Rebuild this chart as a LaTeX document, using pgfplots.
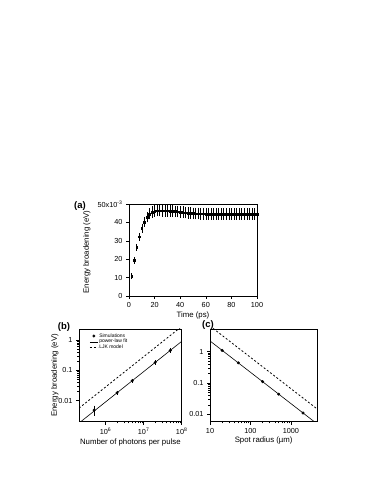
\documentclass[border=0pt]{standalone}
\usepackage{fontspec}
\setmainfont{Liberation Sans}
\usepackage{pgfplots}
\pgfplotsset{compat=1.18}
\usepackage{pgfplotstable}
\pgfplotstableread{
t e err
2 10.8 0.7
4 19.3 0.8
6 26.5 1.0
8 32.2 1.3
10 36.8 1.5
12 40.2 1.7
14 42.8 1.9
16 44.6 2.1
18 45.7 2.2
20 46.2 2.3
22 46.4 2.3
24 46.4 2.3
26 46.3 2.3
28 46.3 2.3
30 46.3 2.3
32 46.2 2.3
34 46.1 2.3
36 46.0 2.3
38 45.9 2.3
40 45.7 2.3
42 45.5 2.3
44 45.3 2.3
46 45.1 2.3
48 45.0 2.3
50 44.9 2.3
52 44.8 2.3
54 44.8 2.3
56 44.7 2.3
58 44.7 2.3
60 44.6 2.3
62 44.6 2.3
64 44.6 2.3
66 44.5 2.3
68 44.5 2.3
70 44.5 2.3
72 44.5 2.3
74 44.5 2.3
76 44.5 2.3
78 44.5 2.3
80 44.5 2.3
82 44.5 2.3
84 44.5 2.3
86 44.5 2.3
88 44.5 2.3
90 44.5 2.3
92 44.5 2.3
94 44.5 2.3
96 44.5 2.3
98 44.5 2.3
100 44.5 2.3
}\timedata
\pgfplotsset{
  common/.style={
    scale only axis,
    anchor=south west,
    tick align=outside,
    tick pos=left,
    major tick length=3pt,
    minor tick length=1.8pt,
    axis line style={line width=0.5pt},
    every tick/.style={black, line width=0.5pt},
    tick label style={font=\fontsize{7.3}{8}\selectfont},
    label style={font=\fontsize{7.8}{9}\selectfont},
    xtick style={black}, ytick style={black},
  },
  dotleg/.style={legend image code/.code={\fill[black] (4pt,0pt) circle (1.3pt);}},
  solidleg/.style={legend image code/.code={\draw[black, line width=0.6pt] (0pt,0pt) -- (8pt,0pt);}},
  dashleg/.style={legend image code/.code={\draw[black, line width=0.8pt, dash pattern=on 2pt off 2pt] (0pt,0pt) -- (8pt,0pt);}},
}
\begin{document}
\begin{tikzpicture}
\path[use as bounding box] (0pt,0pt) rectangle (382pt,494pt);
% ---------------- (a)
\begin{axis}[common,
  at={(129pt,198pt)}, width=128pt, height=92pt,
  xmin=0, xmax=100, ymin=0, ymax=50,
  xtick={0,20,40,60,80,100}, xticklabels={0,20,40,60,80,100},
  ytick={0,10,20,30,40,50}, yticklabels={0,10,20,30,40,{50x10\textsuperscript{-3}}},
  xlabel={Time (ps)}, ylabel={Energy broadening (eV)},
  xlabel style={yshift=3pt},
  ylabel style={at={(axis description cs:-0.33,0.48)}, anchor=center},
]
\addplot+[black, only marks, mark=square*, mark size=0.8pt,
  mark options={black},
  error bars/.cd, y dir=both, y explicit,
  error bar style={line width=0.5pt, black},
  error mark options={mark size=1.6pt, line width=0.5pt, black}]
  table[x=t, y=e, y error=err] {\timedata};
\end{axis}
\node[font=\bfseries\fontsize{9.5}{10}\selectfont] at (80pt,288pt) {(a)};
% ---------------- (b)
\begin{axis}[common,
  at={(79pt,72.3pt)}, width=102.7pt, height=92.7pt,
  xmode=log, ymode=log,
  xmin=2e5, xmax=1e8, ymin=0.002, ymax=2.3,
  xtick={1e6,1e7,1e8}, xticklabels={10\textsuperscript{6},10\textsuperscript{7},10\textsuperscript{8}},
  ytick={0.01,0.1,1}, yticklabels={0.01,0.1,1},
  xlabel={Number of photons per pulse}, ylabel={Energy broadening (eV)},
  xlabel style={yshift=3pt},
  ylabel style={at={(axis description cs:-0.235,0.5)}, anchor=center},
  legend style={draw=none, fill=none, at={(0.1,0.965)}, anchor=north west,
    font=\fontsize{5}{5.5}\selectfont, inner sep=0pt, row sep=-1.2pt,
    nodes={inner sep=1pt}},
  legend cell align=left,
]
\addplot+[black, only marks, mark=*, mark size=1.3pt, mark options={black}, dotleg,
  error bars/.cd, y dir=both, y explicit,
  error bar style={line width=0.5pt, black},
  error mark options={mark size=1.6pt, black}]
  table[x=x, y=y, y error=e] {
x y e
5e5 0.0048 0.0012
2e6 0.018 0.0008
5e6 0.045 0.002
2e7 0.18 0.006
5e7 0.45 0.015
};
\addlegendentry{Simulations}
\addplot[black, line width=0.6pt, solidleg] coordinates {(2e5,0.0018) (1e8,0.9)};
\addlegendentry{power-law fit}
\addplot[black, line width=0.8pt, dash pattern=on 2pt off 2pt, dashleg] coordinates {(2e5,0.0056) (1e8,2.8)};
\addlegendentry{LJK model}
\end{axis}
\node[font=\bfseries\fontsize{9.5}{10}\selectfont] at (64pt,167pt) {(b)};
% ---------------- (c)
\begin{axis}[common,
  at={(210pt,72.3pt)}, width=107.3pt, height=92.7pt,
  xmode=log, ymode=log,
  xmin=10, xmax=4500, ymin=0.0058, ymax=5.3,
  xtick={10,100,1000}, xticklabels={10,100,1000},
  ytick={0.01,0.1,1}, yticklabels={0.01,0.1,1},
  xlabel={Spot radius (\textmu m)},
  xlabel style={yshift=3pt},
]
\addplot+[black, only marks, mark=*, mark size=1.3pt, mark options={black}]
  coordinates {(20,1.1) (50,0.44) (200,0.11) (500,0.044) (2000,0.011)};
\addplot[black, line width=0.6pt] coordinates {(10,2.2) (4500,0.00489)};
\addplot[black, line width=0.8pt, dash pattern=on 2pt off 2pt] coordinates {(10,6.6) (4500,0.01467)};
\end{axis}
\node[font=\bfseries\fontsize{9.5}{10}\selectfont] at (208pt,169pt) {(c)};
\end{tikzpicture}
\end{document}
